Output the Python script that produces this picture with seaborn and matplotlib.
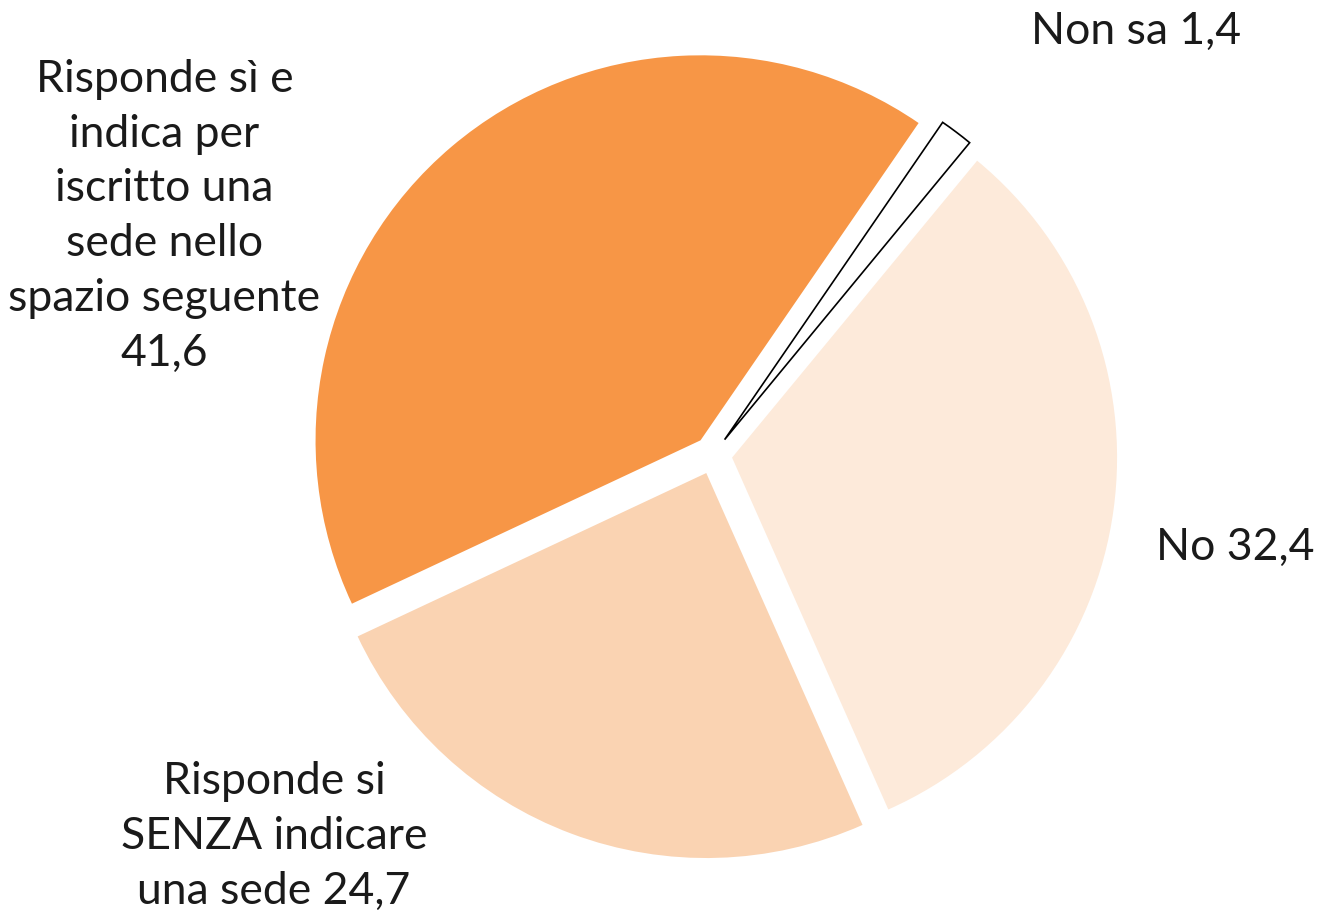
import matplotlib
matplotlib.use("Agg")
import matplotlib.pyplot as plt
import seaborn as sns

# Data
categories = ["Non sa", "No", "Risponde si\nSENZA indicare\nuna sede", "Risponde sì e\nindica per\niscritto una\nsede nello\nspazio seguente"]
values = [1.4, 32.4, 24.7, 41.6]
value_labels = ["1,4", "32,4", "24,7", "41,6"]

colors = ["#FFFFFF", "#FDEADA", "#FAD3B2", "#F79646"]
edge_colors = ["#000000", "none", "none", "none"]

sns.set_theme(style="white")
plt.rcParams['font.family'] = ['Lato', 'DejaVu Sans']

fig = plt.figure(figsize=(13.18, 9.19), dpi=100)
ax = fig.add_axes([0, 0, 1, 1])

wedges, _ = ax.pie(values, colors=colors, startangle=55.5, counterclock=False,
                   explode=[0.05] * len(values), radius=1.0)
for w, ec in zip(wedges, edge_colors):
    if ec != "none":
        w.set_edgecolor(ec)
        w.set_linewidth(1.2)
    else:
        w.set_edgecolor("none")

# label placement (data units, radius = 1)
label_pos = [(1.10, 1.10), (1.356, -0.239), (-1.14, -0.99), (-1.425, 0.62)]
label_texts = [f"{categories[0]} {value_labels[0]}", f"{categories[1]} {value_labels[1]}",
               f"{categories[2]} {value_labels[2]}", f"{categories[3]}\n{value_labels[3]}"]
for (x, y), t in zip(label_pos, label_texts):
    ax.text(x, y, t, ha="center", va="center", fontsize=32, color="#1a1a1a",
            linespacing=1.42)

ax.set_xlim(-713 / 385, (1318 - 713) / 385)
ax.set_ylim(-(919 - 455) / 385, 455 / 385)
ax.set_aspect("equal")
ax.axis("off")

fig.savefig("out.png", dpi=100, facecolor="white")
